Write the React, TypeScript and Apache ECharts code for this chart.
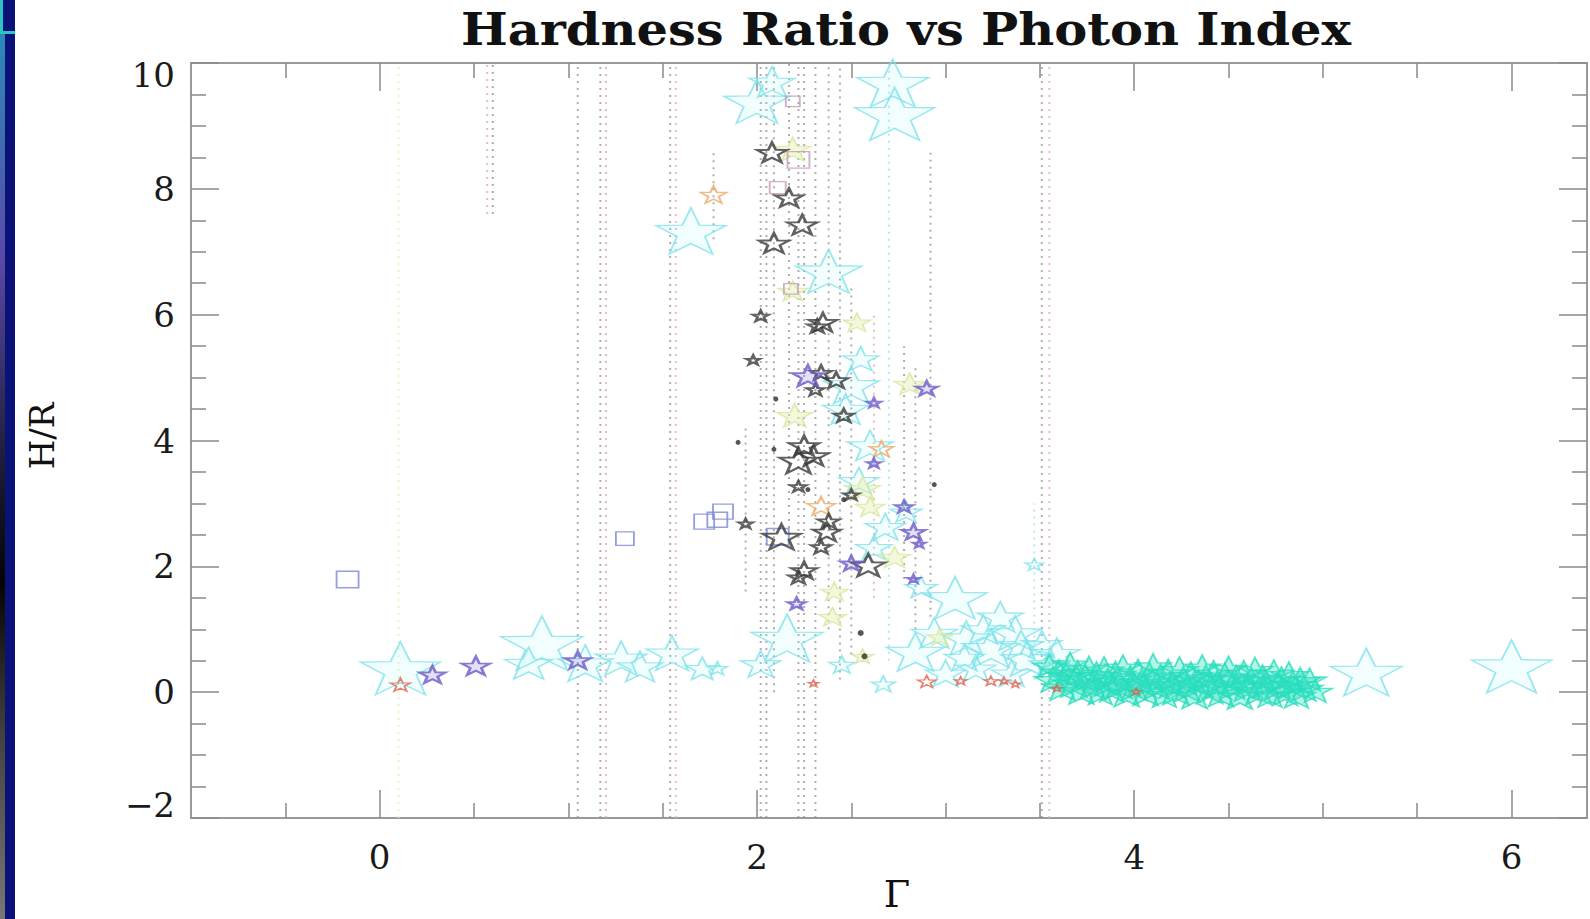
import React, { useEffect, useRef } from "react";
import * as echarts from "echarts";

// ---- tick values ----
const X_MAJOR = [0, 2, 4, 6];
const X_MINOR = [-0.5, 0.5, 1, 1.5, 2.5, 3, 3.5, 4.5, 5, 5.5];

// ---- data: [Gamma, H/R, weight] ----
const cyanStars: number[][] = [
  [0.11, 0.38, 80], [0.86, 0.78, 82], [0.79, 0.46, 48], [1.09, 0.46, 55], [1.28, 0.54, 52],
  [1.38, 0.41, 46], [1.55, 0.62, 52], [1.71, 0.38, 34], [1.79, 0.38, 20], [1.65, 7.33, 70],
  [2.0, 9.39, 66], [2.08, 9.7, 46], [2.16, 0.86, 72], [2.02, 0.45, 40], [2.38, 6.69, 66],
  [2.72, 9.68, 72], [2.73, 9.19, 80], [2.45, 0.44, 26], [2.67, 0.13, 24], [2.6, 3.92, 46],
  [2.5, 4.88, 56], [2.68, 2.63, 40], [2.79, 2.87, 32], [3.05, 1.5, 64], [2.84, 0.64, 58],
  [3.11, 0.86, 52], [3.24, 0.7, 58], [3.37, 0.94, 52], [3.43, 0.53, 52], [3.16, 0.38, 40],
  [3.59, 0.62, 46], [3.47, 2.03, 18], [5.23, 0.32, 72], [6.0, 0.41, 80], [2.94, 0.94, 46],
  [3.29, 1.2, 46], [3.51, 0.77, 40], [2.47, 4.5, 46], [2.54, 3.36, 40], [2.87, 1.67, 32],
  [2.55, 5.3, 36], [2.62, 2.3, 36], [3.0, 0.3, 40], [3.35, 0.3, 40], [3.2, 1.0, 44],
  [3.4, 0.75, 44], [3.55, 0.45, 40], [3.1, 0.55, 40],
];

const tealStars: number[][] = [
  [3.55, 0.42, 34], [3.57, 0.2, 38], [3.6, 0.32, 36], [3.62, 0.08, 40], [3.64, 0.26, 38],
  [3.66, 0.45, 34], [3.68, 0.14, 42], [3.7, 0.3, 38], [3.72, 0.02, 40], [3.74, 0.22, 42],
  [3.76, 0.38, 36], [3.78, 0.1, 40], [3.8, 0.26, 42], [3.82, 0.0, 38], [3.84, 0.35, 40],
  [3.86, 0.16, 42], [3.88, 0.05, 38], [3.9, 0.28, 40], [3.92, 0.12, 42], [3.94, 0.4, 36],
  [3.96, -0.02, 40], [3.98, 0.2, 42], [4.0, 0.08, 40], [4.02, 0.32, 38], [4.04, 0.15, 42],
  [4.06, 0.0, 40], [4.08, 0.25, 42], [4.1, 0.42, 36], [4.12, 0.1, 40], [4.14, 0.22, 42],
  [4.16, -0.04, 38], [4.18, 0.3, 42], [4.2, 0.12, 40], [4.22, 0.02, 42], [4.24, 0.36, 38],
  [4.26, 0.18, 42], [4.28, 0.06, 40], [4.3, 0.26, 42], [4.32, -0.05, 40], [4.34, 0.14, 42],
  [4.36, 0.4, 36], [4.38, 0.22, 40], [4.4, 0.04, 42], [4.42, 0.3, 38], [4.44, 0.12, 42],
  [4.46, -0.02, 40], [4.48, 0.24, 42], [4.5, 0.38, 36], [4.52, 0.1, 40], [4.54, 0.2, 42],
  [4.56, -0.06, 40], [4.58, 0.3, 38], [4.6, 0.08, 42], [4.62, 0.18, 40], [4.64, 0.36, 36],
  [4.66, 0.02, 42], [4.68, 0.22, 40], [4.7, 0.12, 42], [4.72, -0.04, 38], [4.74, 0.3, 40],
  [4.76, 0.1, 42], [4.78, 0.2, 38], [4.8, 0.0, 40], [4.82, 0.28, 38], [4.84, 0.12, 40],
  [4.86, -0.05, 38], [4.88, 0.18, 40], [4.9, 0.06, 38], [4.93, 0.2, 34], [4.96, 0.02, 34],
];

const blackStars: number[][] = [
  [2.08, 8.58, 30], [2.17, 7.86, 28], [2.24, 7.43, 30], [2.09, 7.14, 30], [2.02, 5.98, 16],
  [1.98, 5.28, 14], [2.35, 5.88, 28], [2.32, 5.82, 20], [2.34, 5.08, 22], [2.42, 4.96, 24],
  [2.31, 4.81, 18], [2.46, 4.4, 20], [2.25, 3.92, 30], [2.22, 3.68, 38], [2.3, 3.76, 30],
  [2.22, 3.27, 16], [2.5, 3.14, 16], [2.13, 2.47, 38], [2.37, 2.55, 28], [2.38, 2.72, 22],
  [2.34, 2.31, 20], [2.25, 1.94, 26], [2.22, 1.83, 20], [2.59, 2.02, 34], [1.94, 2.68, 14],
];

const purpleStars: number[][] = [
  [0.28, 0.28, 26], [0.51, 0.42, 28], [1.05, 0.51, 26], [2.27, 5.03, 32], [2.9, 4.83, 22],
  [2.62, 4.6, 14], [2.78, 2.95, 18], [2.83, 2.55, 24], [2.62, 3.64, 14], [2.86, 2.36, 12],
  [2.83, 1.8, 12], [2.21, 1.41, 18], [2.5, 2.05, 22],
];

const yellowStars: number[][] = [
  [2.19, 8.63, 36], [2.19, 6.38, 30], [2.53, 5.88, 28], [2.81, 4.9, 32], [2.2, 4.4, 36],
  [2.56, 3.24, 36], [2.73, 2.15, 32], [2.41, 1.6, 28], [2.4, 1.2, 28], [2.6, 2.95, 30],
  [2.97, 0.88, 26], [2.56, 0.57, 22],
];

const orangeStars: number[][] = [
  [1.77, 7.91, 26], [2.34, 2.96, 28], [2.66, 3.87, 24],
];

const redStars: number[][] = [
  [0.11, 0.12, 20], [2.3, 0.14, 10], [2.9, 0.17, 18], [3.08, 0.18, 12], [3.24, 0.18, 14],
  [3.31, 0.18, 10], [3.37, 0.13, 10], [3.59, 0.06, 10], [4.01, 0.01, 10],
];

const blueSquares: number[][] = [
  [-0.17, 1.79, 22], [1.3, 2.44, 18], [1.72, 2.71, 20], [1.79, 2.74, 20], [1.82, 2.87, 20],
  [2.11, 2.47, 22],
];

const pinkSquares: number[][] = [
  [2.19, 9.39, 14], [2.22, 8.46, 22], [2.11, 8.02, 16], [2.18, 6.41, 14],
];

const blackDots: number[][] = [
  [2.57, 0.57, 6], [2.09, 3.86, 5], [1.9, 3.97, 5], [2.27, 3.22, 5], [2.1, 4.66, 5],
  [2.94, 3.3, 5], [2.46, 3.06, 5], [2.55, 0.94, 6],
];

// error bars: Gamma, low, high, tone (0 gray, 1 pink, 2 yellow, 3 cyan)
const errGamma = [0.1, 0.57, 0.6, 1.05, 1.17, 1.2, 1.54, 1.57, 1.77, 1.94, 2.02, 2.05, 2.09, 2.17, 2.22, 2.25, 2.31, 2.38, 2.44, 2.5, 2.62, 2.7, 2.78, 2.84, 2.92, 3.47, 3.51, 3.55];
const errLow = [-2, 7.6, 7.6, -2, -2, -2, -2, -2, 7.2, 1.6, -2, -2, 0, 2.5, -2, -2, -2, 1.0, 0.2, 0.6, 1.5, 0.5, 1.8, 1.0, 1.2, 0.2, -2, -2];
const errHigh = [10, 10, 10, 10, 10, 10, 10, 10, 8.6, 4.2, 10, 10, 10, 10, 10, 10, 10, 10, 10, 6.5, 6.0, 10, 5.5, 5.2, 8.6, 3.0, 10, 10];
const errTone = [2, 1, 0, 0, 0, 1, 0, 1, 0, 0, 0, 0, 0, 0, 0, 0, 0, 0, 0, 0, 1, 3, 0, 0, 0, 3, 0, 1];

const STAR = "path://M0,-10 L2.35,-3.24 L9.51,-3.09 L3.8,1.24 L5.88,8.09 L0,4 L-5.88,8.09 L-3.8,1.24 L-9.51,-3.09 L-2.35,-3.24 Z";
const SERIF = "'DejaVu Serif', 'Liberation Serif', serif";
const toneColors = ["rgba(140,140,140,0.7)", "rgba(225,170,195,0.8)", "rgba(235,235,185,0.8)", "rgba(160,230,235,0.8)"];

function starSeries(name: string, data: number[][], stroke: string, width: number, fill = "rgba(0,0,0,0)", z = 3) {
  return {
    name,
    type: "scatter",
    symbol: STAR,
    symbolSize: (v: number[]) => [v[2], v[2] * 0.66],
    data,
    z,
    itemStyle: { color: fill, borderColor: stroke, borderWidth: width },
    silent: true,
  };
}

export default function App() {
  const ref = useRef<HTMLDivElement>(null);
  useEffect(() => {
    if (!ref.current) return;
    const chart = echarts.init(ref.current, null, { renderer: "svg" });
    const errData = errGamma.map((g, i) => [g, errLow[i], errHigh[i], errTone[i]]);
    const axisLine = { show: true, onZero: false, lineStyle: { color: "#9a9a9a", width: 2 } };
    const noLine = { show: false, onZero: false };
    const tickStyle = { color: "#8a8a8a", width: 1.5 };
    const labelStyle = { fontFamily: SERIF, fontSize: 34, color: "#1a1a1a" };
    const fmtX = (v: number) => String(v).replace("-", "\u2212");
    const fmtY = (v: number) => {
      const s = String(v).replace("-", "\u2212");
      if (v === 10) return "{top|" + s + "}";
      if (v === -2) return "{bot|" + s + "}";
      return s;
    };
    const xBase = { type: "value", min: -1, max: 6.4, splitLine: { show: false } };
    const yBase = { type: "value", min: -2, max: 10, interval: 2, splitLine: { show: false } };
    const option: any = {
      animation: false,
      backgroundColor: "#ffffff",
      grid: { left: 191, right: 3, top: 63, bottom: 101, containLabel: false },
      xAxis: [
        {
          ...xBase, position: "bottom", axisLine,
          axisTick: { show: true, inside: true, length: 28, customValues: X_MAJOR, lineStyle: tickStyle },
          axisLabel: { ...labelStyle, margin: 22, customValues: X_MAJOR, formatter: fmtX },
        },
        {
          ...xBase, position: "bottom", axisLine: noLine,
          axisTick: { show: true, inside: true, length: 15, customValues: X_MINOR, lineStyle: tickStyle },
          axisLabel: { show: false },
        },
        {
          ...xBase, position: "top", axisLine,
          axisTick: { show: true, inside: true, length: 28, customValues: X_MAJOR, lineStyle: tickStyle },
          axisLabel: { show: false },
        },
        {
          ...xBase, position: "top", axisLine: noLine,
          axisTick: { show: true, inside: true, length: 15, customValues: X_MINOR, lineStyle: tickStyle },
          axisLabel: { show: false },
        },
      ],
      yAxis: [
        {
          ...yBase, position: "left", axisLine,
          axisTick: { show: true, inside: true, length: 28, lineStyle: tickStyle },
          minorTick: { show: true, splitNumber: 4, length: 15, lineStyle: tickStyle },
          axisLabel: {
            ...labelStyle, margin: 16, formatter: fmtY,
            rich: {
              top: { fontFamily: SERIF, fontSize: 34, color: "#1a1a1a", padding: [24, 0, 0, 0] },
              bot: { fontFamily: SERIF, fontSize: 34, color: "#1a1a1a", padding: [0, 0, 26, 0] },
            },
          },
        },
        {
          ...yBase, position: "right", axisLine,
          axisTick: { show: true, inside: true, length: 28, lineStyle: tickStyle },
          minorTick: { show: true, splitNumber: 4, length: 15, lineStyle: tickStyle },
          axisLabel: { show: false },
        },
      ],
      series: [
        {
          name: "errors",
          type: "custom",
          silent: true,
          z: 1,
          data: errData,
          renderItem: (params: any, api: any) => {
            const p1 = api.coord([api.value(0), api.value(1)]);
            const p2 = api.coord([api.value(0), api.value(2)]);
            return {
              type: "line",
              shape: { x1: p1[0], y1: p1[1], x2: p2[0], y2: p2[1] },
              style: { stroke: toneColors[api.value(3)], lineWidth: 2, lineDash: [2, 5] },
            };
          },
        },
        starSeries("cyan", cyanStars, "#80e2ec", 1.6, "rgba(150,235,240,0.15)", 2),
        starSeries("yellow", yellowStars, "#d8e6a0", 1.5, "rgba(225,238,170,0.55)", 3),
        starSeries("teal", tealStars, "#2adcbc", 1.6, "rgba(40,225,190,0.45)", 4),
        starSeries("orange", orangeStars, "#eeaa6a", 1.8, "rgba(0,0,0,0)", 5),
        starSeries("red", redStars, "#e0604c", 1.6, "rgba(0,0,0,0)", 6),
        starSeries("black", blackStars, "#3a3a3a", 2.4, "rgba(0,0,0,0)", 6),
        starSeries("purple", purpleStars, "#6b5cc8", 2.4, "rgba(120,100,210,0.25)", 7),
        {
          name: "blueSq", type: "scatter", symbol: "rect", silent: true, z: 5,
          symbolSize: (v: number[]) => [v[2], v[2] * 0.75], data: blueSquares,
          itemStyle: { color: "rgba(0,0,0,0)", borderColor: "#7a88d4", borderWidth: 1.6 },
        },
        {
          name: "pinkSq", type: "scatter", symbol: "rect", silent: true, z: 5,
          symbolSize: (v: number[]) => [v[2], v[2] * 0.75], data: pinkSquares,
          itemStyle: { color: "rgba(0,0,0,0)", borderColor: "#c59ab8", borderWidth: 1.6 },
        },
        {
          name: "dots", type: "scatter", symbol: "circle", silent: true, z: 8,
          symbolSize: (v: number[]) => v[2], data: blackDots,
          itemStyle: { color: "#2a2a2a" },
        },
      ],
      graphic: [
        { type: "rect", left: 0, top: 0, shape: { width: 15, height: 919 }, style: { fill: "#0a1278" }, z: 100 },
        {
          type: "rect", left: 0, top: 34, shape: { width: 5, height: 885 }, z: 101,
          style: {
            fill: new echarts.graphic.LinearGradient(0, 0, 0, 1, [
              { offset: 0, color: "#2a8ab8" },
              { offset: 0.25, color: "#5a4aa8" },
              { offset: 0.5, color: "#1a1a30" },
              { offset: 0.62, color: "#050505" },
              { offset: 0.8, color: "#444" },
              { offset: 1, color: "#777" },
            ]),
          },
        },
        { type: "rect", left: 0, top: 0, shape: { width: 3, height: 34 }, style: { fill: "#2ec4c4" }, z: 102 },
        { type: "rect", left: 0, top: 31, shape: { width: 15, height: 3 }, style: { fill: "#2ec4c4" }, z: 102 },
        {
          type: "text", x: 906, y: 29, scaleX: 1.1, z: 100,
          style: {
            text: "Hardness Ratio vs Photon Index", fill: "#111", font: `bold 45px ${SERIF}`,
            align: "center", verticalAlign: "middle",
          },
        },
        {
          type: "text", x: 42, y: 436, rotation: Math.PI / 2, z: 100,
          style: { text: "H/R", fill: "#111", font: `34px ${SERIF}`, align: "center", verticalAlign: "middle" },
        },
        {
          type: "text", x: 897, y: 894, z: 100,
          style: { text: "\u0393", fill: "#111", font: `38px ${SERIF}`, align: "center", verticalAlign: "middle" },
        },
      ],
    };
    chart.setOption(option);
    return () => chart.dispose();
  }, []);
  return (
    <div
      ref={ref}
      style={{ position: "fixed", left: 0, top: 0, width: 1590, height: 919, background: "#fff" }}
    />
  );
}
